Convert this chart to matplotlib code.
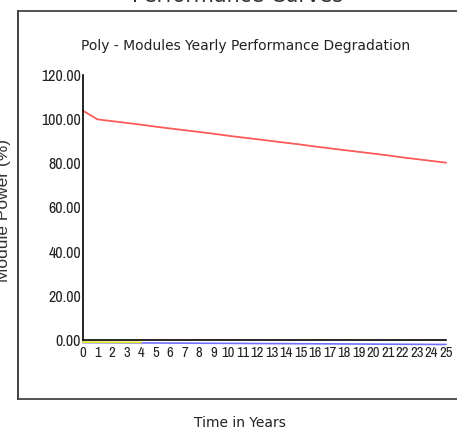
import numpy as np
import matplotlib
matplotlib.use("Agg")
import matplotlib.pyplot as plt
from matplotlib.lines import Line2D

# data
years = list(range(26))
poly_power = [103.8, 99.9, 99.1, 98.3, 97.5, 96.6, 95.8, 95.0, 94.2, 93.4,
              92.5, 91.7, 90.9, 90.1, 89.3, 88.5, 87.6, 86.8, 86.0, 85.2,
              84.4, 83.6, 82.7, 81.9, 81.1, 80.3]
blue_power = [-1.2, -1.23, -1.26, -1.3, -1.33, -1.36, -1.4, -1.43, -1.46, -1.5,
              -1.53, -1.56, -1.6, -1.63, -1.66, -1.7, -1.73, -1.76, -1.8, -1.83,
              -1.86, -1.9, -1.93, -1.96, -2.0, -2.03]
yellow_years = [0, 1, 2, 3, 4]
yellow_power = [-1.0, -1.02, -1.04, -1.06, -1.08]
yticks = [0, 20, 40, 60, 80, 100, 120]

narrow = ["Archivo Narrow", "Roboto Condensed", "Liberation Sans", "DejaVu Sans"]
arial = ["Liberation Sans", "DejaVu Sans"]

fig = plt.figure(figsize=(4.57, 4.32), dpi=100)
fig.patch.set_facecolor("white")

ax = fig.add_axes([0.1816, 0.213, 0.794, 0.6134])
ax.plot(years, poly_power, color="#ff5a5a", lw=1.3, clip_on=False)
ax.plot(years, blue_power, color="#7070ff", lw=1.2, clip_on=False)
ax.plot(yellow_years, yellow_power, color="#e6e620", lw=1.2, clip_on=False)

ax.set_xlim(0, 25)
ax.set_ylim(0, 120)
ax.set_yticks(yticks)
ax.set_yticklabels(["%.2f" % v for v in yticks], family=narrow, fontsize=11.5,
                   color="#222222")
ax.set_xticks(years)
ax.set_xticklabels([str(y) for y in years], family=narrow, fontsize=10.5,
                   color="#222222")
ax.tick_params(axis="y", length=0, pad=1.5)
ax.tick_params(axis="x", length=0, pad=4)
ax.spines["top"].set_visible(False)
ax.spines["right"].set_visible(False)
ax.spines["left"].set_linewidth(1.2)
ax.spines["bottom"].set_linewidth(1.2)

fig.text(246 / 457, 1 - 46 / 432, "Poly - Modules Yearly Performance Degradation",
         ha="center", va="center", fontsize=10, color="#222222")

# outer frame of the chart area
fig.add_artist(Line2D([18 / 457, 18 / 457], [1 - 11 / 432, 1 - 399 / 432],
                      transform=fig.transFigure, color="#333333", lw=1.3))
fig.add_artist(Line2D([18 / 457, 1], [1 - 11 / 432, 1 - 11 / 432],
                      transform=fig.transFigure, color="#444444", lw=1.3))
fig.add_artist(Line2D([18 / 457, 1], [1 - 399 / 432, 1 - 399 / 432],
                      transform=fig.transFigure, color="#444444", lw=1.3))

fig.text(238 / 457, 1 + 4 / 432, "Performance Curves", ha="center", va="center",
         fontsize=15, color="#333333")
fig.text(240 / 457, 1 - 423 / 432, "Time in Years", ha="center", va="center",
         fontsize=10, color="#222222")
fig.text(4 / 457, 1 - 211 / 432, "Module Power (%)", ha="center", va="center",
         rotation=90, family=arial, fontsize=12.5, color="#333333")

fig.savefig("out.png", dpi=100)
